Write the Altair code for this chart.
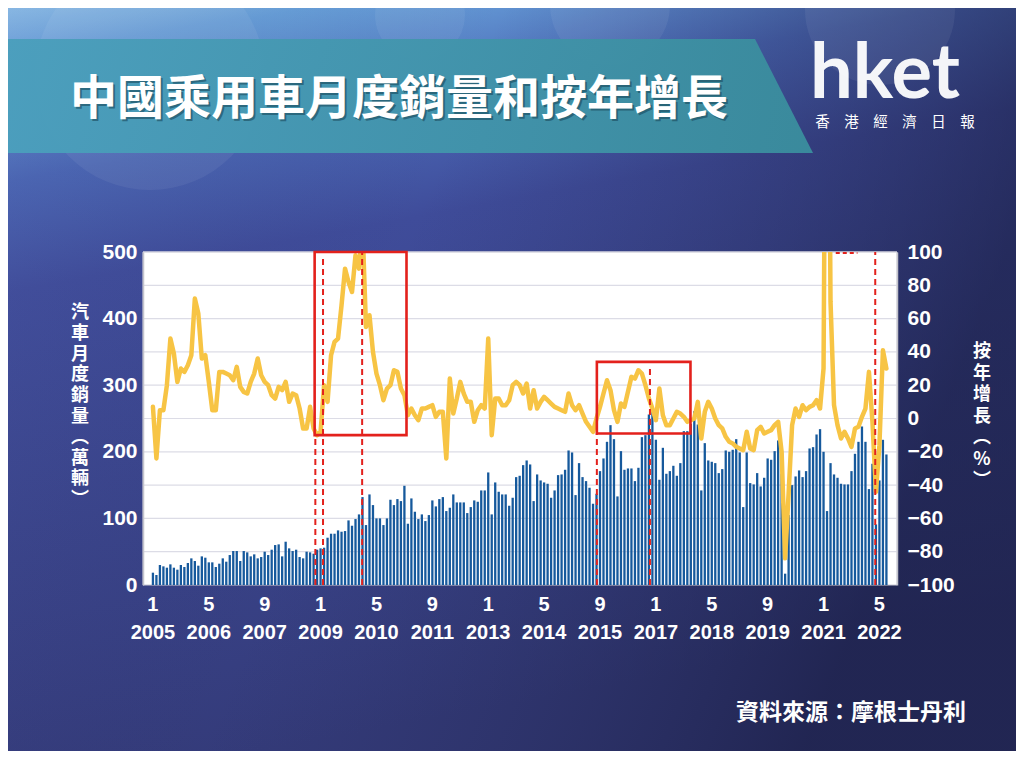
import altair as alt
import pandas as pd

# ---------------- data ----------------
# Monthly passenger-car sales (10k units), Jan 2005 .. Jul 2022
sales_2005 = [18.5, 15, 30, 28, 26, 31, 26, 23, 30, 27, 33, 40]
sales_2006 = [36, 29, 43, 41, 34, 34, 27, 32, 40, 35, 45, 51]
sales_2007 = [51, 36, 51, 49, 43, 46, 40, 42, 50, 45, 53, 60]
sales_2008 = [61, 43, 65, 55, 51, 53, 42, 40, 50, 49, 47, 53]
sales_2009 = [55, 56, 71, 77, 77, 82, 80, 81, 97, 89, 99, 106]
sales_2010 = [132, 90, 136, 120, 100, 100, 90, 100, 128, 120, 129, 126]
sales_2011 = [149, 92, 130, 110, 99, 106, 96, 105, 127, 118, 129, 132]
sales_2012 = [111, 116, 136, 124, 124, 124, 108, 117, 127, 125, 142, 142]
sales_2013 = [169, 106, 154, 140, 136, 136, 119, 131, 162, 164, 180, 187]
sales_2014 = [181, 126, 166, 157, 154, 152, 131, 142, 165, 166, 173, 202]
sales_2015 = [199, 135, 183, 162, 156, 146, 122, 137, 171, 190, 215, 240]
sales_2016 = [219, 133, 201, 173, 175, 175, 156, 176, 222, 225, 256, 262]
sales_2017 = [218, 158, 206, 167, 171, 179, 164, 183, 231, 231, 242, 261]
sales_2018 = [241, 142, 213, 187, 185, 183, 168, 174, 202, 200, 203, 219]
sales_2019 = [199, 117, 199, 153, 151, 168, 148, 161, 190, 188, 201, 217]
sales_2020 = [167, 17, 105, 150, 163, 172, 162, 171, 205, 207, 226, 234]
sales_2021 = [200, 111, 183, 166, 161, 152, 151, 151, 171, 197, 215, 238]
sales_2022 = [215, 144, 182, 91, 157, 218, 196]

# Year-on-year growth (%)
growth_2005 = [7, -24, 5, 5, 20, 48, 39, 22, 30, 28, 32, 38]
growth_2006 = [72, 63, 36, 38, 22, 5, 5, 28, 28, 27, 26, 23]
growth_2007 = [31, 19, 16, 15, 22, 27, 36, 26, 22, 20, 14, 12]
growth_2008 = [19, 17, 22, 10, 15, 14, 6, -6, -6, 7, -6, -10]
growth_2009 = [-8, 20, 10, 38, 46, 48, 68, 90, 82, 76, 98, 90]
growth_2010 = [116, 55, 62, 40, 27, 20, 11, 18, 20, 29, 28, 18]
growth_2011 = [14, 2, 6, 2, -1, 6, 6, 7, 8, 1, 4, 4]
growth_2012 = [-24, 24, 3, 12, 22, 15, 10, 10, -2, 5, 8, 6]
growth_2013 = [48, -10, 12, 12, 8, 8, 11, 20, 22, 20, 15, 21]
growth_2014 = [6, 17, 6, 10, 13, 11, 9, 7, 6, 5, 4, 15]
growth_2015 = [8, 5, 8, 3, -2, -5, -8, 0, 7, 15, 23, 17]
growth_2016 = [5, -2, 9, 7, 16, 25, 24, 29, 27, 20, 12, 6]
growth_2017 = [-1, 18, 2, -4, -4, 0, 4, 3, 1, -2, -1, 0]
growth_2018 = [10, -12, 4, 10, 6, 0, -4, -6, -11, -14, -15, -17]
growth_2019 = [-18, -19, -8, -18, -19, -7, -5, -9, -8, -7, -4, -2]
growth_2020 = [-20, -84, -45, -4, 6, 1, 8, 5, 7, 8, 11, 6]
growth_2021 = [30, 380, 70, 8, -4, -12, -8, -12, -17, -6, -5, 1]
growth_2022 = [6, 28, -2, -44, -16, 41, 30]

# x-axis ticks (month index since Jan 2005)
tick_index = [0, 16, 32, 48, 64, 80, 96, 112, 128, 144, 160, 176, 192, 208]
tick_month = ["1", "5", "9", "1", "5", "9", "1", "5", "9", "1", "5", "9", "1", "5"]
tick_year = ["2005", "2006", "2007", "2009", "2010", "2011", "2013", "2014",
             "2015", "2017", "2018", "2019", "2021", "2022"]
sales_ticks = [0, 100, 200, 300, 400, 500]
growth_ticks = [-100, -80, -60, -40, -20, 0, 20, 40, 60, 80, 100]
grid_sales = [50, 100, 150, 200, 250, 300, 350, 400, 450, 500]

# red annotation boxes / dashed markers (month index, growth %)
box_x1 = [46.3, 127.1]
box_x2 = [72.6, 153.9]
box_low = [-10, -9]
box_high = [100, 34]
dash_x = [46.5, 48.7, 59.9, 127.1, 142.3, 206.8]
dash_top = [-10, 97, 100, -9, 31, 100]
dash_bottom = [-100, -100, -100, -100, -100, -100]
topdash_x1 = [195.5]
topdash_x2 = [201.7]
topdash_g = [99.4]

title_text = "中國乘用車月度銷量和按年增長"
left_title = ["汽", "車", "月", "度", "銷", "量", "︵", "萬", "輛", "︶"]
right_title = ["按", "年", "增", "長", "︵", "%", "︶"]
source_text = "資料來源：摩根士丹利"
logo_text = "hket"
logo_sub = "香　港　經　濟　日　報"

# ---------------- build ----------------
sales = (sales_2005 + sales_2006 + sales_2007 + sales_2008 + sales_2009 + sales_2010 +
         sales_2011 + sales_2012 + sales_2013 + sales_2014 + sales_2015 + sales_2016 +
         sales_2017 + sales_2018 + sales_2019 + sales_2020 + sales_2021 + sales_2022)
growth = (growth_2005 + growth_2006 + growth_2007 + growth_2008 + growth_2009 + growth_2010 +
          growth_2011 + growth_2012 + growth_2013 + growth_2014 + growth_2015 + growth_2016 +
          growth_2017 + growth_2018 + growth_2019 + growth_2020 + growth_2021 + growth_2022)
df = pd.DataFrame({"i": list(range(len(sales))), "sales": sales, "growth": growth})
ticks_df = pd.DataFrame({"i": tick_index, "m": tick_month, "y": tick_year})

W, H = 754, 333
PAD_L, PAD_T, PAD_R, PAD_B = 135, 244, 119, 166


def px(X):
    return X - (8 + PAD_L)


def py(Y):
    return Y - (8 + PAD_T)


one = pd.DataFrame({"a": [0]})
xscale = alt.Scale(domain=[-1.41, 211.6], nice=False, zero=False)
sales_scale = alt.Scale(domain=[0, 500], nice=False)
growth_scale = alt.Scale(domain=[-100, 100], nice=False)

WHITE = "#ffffff"
RED = "#e3211c"
NUM_FONT = "Liberation Sans Narrow, Arial Narrow, Liberation Sans, Arial, sans-serif"
CJK = "Noto Sans CJK TC"

bg_grad = {"gradient": "linear", "x1": 0, "y1": 0, "x2": 0.25, "y2": 1,
           "stops": [{"offset": 0, "color": "#93cbee"},
                     {"offset": 0.07, "color": "#69a3dc"},
                     {"offset": 0.22, "color": "#4a67b4"},
                     {"offset": 0.36, "color": "#3f4c9a"},
                     {"offset": 1, "color": "#343b7a"}]}
shade_grad = {"gradient": "linear", "x1": 0, "y1": 0, "x2": 1, "y2": 0.3,
              "stops": [{"offset": 0, "color": "rgba(90,100,180,0.20)"},
                        {"offset": 0.45, "color": "rgba(40,44,90,0.0)"},
                        {"offset": 1, "color": "rgba(18,20,50,0.55)"}]}
banner_grad = {"gradient": "linear", "x1": 0, "y1": 0, "x2": 1, "y2": 0,
               "stops": [{"offset": 0, "color": "#4b9fbd"},
                         {"offset": 1, "color": "#3a8c9d"}]}

bg = alt.Chart(one).mark_rect(fill=bg_grad).encode(
    x=alt.value(-PAD_L), x2=alt.value(W + PAD_R), y=alt.value(-PAD_T), y2=alt.value(H + PAD_B))
shade = alt.Chart(one).mark_rect(fill=shade_grad).encode(
    x=alt.value(-PAD_L), x2=alt.value(W + PAD_R), y=alt.value(-PAD_T), y2=alt.value(H + PAD_B))

bokeh_df = pd.DataFrame({"bx": [px(150), px(420), px(610), px(880)],
                         "by": [py(75), py(15), py(5), py(10)],
                         "bs": [230 ** 2, 90 ** 2, 120 ** 2, 150 ** 2]})
bokeh = alt.Chart(bokeh_df).mark_point(shape="circle", filled=True, color="#ffffff",
                                       opacity=0.06, strokeOpacity=0).encode(
    x=alt.X("bx:Q", scale=None), y=alt.Y("by:Q", scale=None), size=alt.Size("bs:Q", scale=None))

banner = alt.Chart(one).mark_point(
    shape="M0,0 L755,0 L813,114 L0,114 Z", size=4, filled=True, fill=banner_grad,
    strokeOpacity=0, opacity=0.97).encode(x=alt.value(px(0)), y=alt.value(py(39)))

title_shadow = alt.Chart(one).mark_text(
    text=title_text, font=CJK, fontWeight="bold", fontSize=47,
    align="left", baseline="middle", color="#1b4a5c", opacity=0.6).encode(
    x=alt.value(px(72)), y=alt.value(py(102)))
title = alt.Chart(one).mark_text(
    text=title_text, font=CJK, fontWeight="bold", fontSize=47,
    align="left", baseline="middle", color=WHITE).encode(
    x=alt.value(px(70)), y=alt.value(py(100)))

logo = alt.Chart(one).mark_text(
    text=logo_text, font="Lato", fontWeight="bold", fontSize=76, align="left",
    baseline="alphabetic", color=WHITE, opacity=0.95).encode(
    x=alt.value(px(810)), y=alt.value(py(98)))
logo2 = alt.Chart(one).mark_text(
    text=logo_sub, font=CJK, fontSize=14.5, align="center",
    baseline="middle", color=WHITE).encode(x=alt.value(px(895)), y=alt.value(py(123)))

plot_bg = alt.Chart(one).mark_rect(fill="white", stroke="#c9c9d4", strokeWidth=1).encode(
    x=alt.value(0), x2=alt.value(W), y=alt.value(0), y2=alt.value(H))

grid = alt.Chart(pd.DataFrame({"g": grid_sales})).mark_rule(
    color="#dcdce6", strokeWidth=1.2).encode(
    y=alt.Y("g:Q", scale=sales_scale, axis=None), x=alt.value(0), x2=alt.value(W))

x_axis = alt.Axis(values=tick_index, labels=False, title=None, grid=False, ticks=False,
                  domainColor="#c4c4cc", domainWidth=1.5, zindex=2)
left_axis = alt.Axis(values=sales_ticks, title=None, grid=False, ticks=False,
                     labelColor=WHITE, labelFont="Liberation Sans", labelFontWeight="bold",
                     labelFontSize=21, labelPadding=6, labelOverlap=False, labelFlush=False,
                     domainColor="#c4c4cc", domainWidth=1.5, zindex=2)
right_axis = alt.Axis(values=growth_ticks, orient="right", title=None, grid=False,
                      ticks=False, labelColor=WHITE, labelFont="Liberation Sans",
                      labelFontWeight="bold", labelFontSize=21, labelPadding=10,
                      labelOverlap=False, labelFlush=False, domainColor="#c4c4cc",
                      domainWidth=1.5, zindex=2)

bars = alt.Chart(df).mark_bar(size=2.3, color="#16599c").encode(
    x=alt.X("i:Q", scale=xscale, axis=x_axis),
    y=alt.Y("sales:Q", scale=sales_scale, axis=left_axis))

line = alt.Chart(df).mark_line(color="#f7c444", strokeWidth=4.5, clip=True,
                               strokeJoin="round", strokeCap="round").encode(
    x=alt.X("i:Q", scale=xscale, axis=None),
    y=alt.Y("growth:Q", scale=growth_scale, axis=right_axis))

boxes_df = pd.DataFrame({"x1": box_x1, "x2": box_x2, "g1": box_low, "g2": box_high})
boxes = alt.Chart(boxes_df).mark_rect(fillOpacity=0, stroke=RED, strokeWidth=2.6).encode(
    x=alt.X("x1:Q", scale=xscale, axis=None), x2="x2:Q",
    y=alt.Y("g1:Q", scale=growth_scale, axis=None), y2="g2:Q")

dash_df = pd.DataFrame({"x": dash_x, "g1": dash_bottom, "g2": dash_top})
dashes = alt.Chart(dash_df).mark_rule(color=RED, strokeWidth=2, strokeDash=[6, 4]).encode(
    x=alt.X("x:Q", scale=xscale, axis=None),
    y=alt.Y("g1:Q", scale=growth_scale, axis=None), y2="g2:Q")

topdash_df = pd.DataFrame({"x1": topdash_x1, "x2": topdash_x2, "g": topdash_g})
topdash = alt.Chart(topdash_df).mark_rule(color=RED, strokeWidth=2, strokeDash=[4, 3]).encode(
    x=alt.X("x1:Q", scale=xscale, axis=None), x2="x2:Q",
    y=alt.Y("g:Q", scale=growth_scale, axis=None))

month_lbl = alt.Chart(ticks_df).mark_text(
    font=NUM_FONT, fontWeight="bold", fontSize=20, color=WHITE,
    align="center", baseline="middle").encode(
    x=alt.X("i:Q", scale=xscale, axis=None), y=alt.value(py(605)), text="m:N")
year_lbl = alt.Chart(ticks_df).mark_text(
    font=NUM_FONT, fontWeight="bold", fontSize=20, color=WHITE,
    align="center", baseline="middle").encode(
    x=alt.X("i:Q", scale=xscale, axis=None), y=alt.value(py(633)), text="y:N")

# vertical (stacked) axis titles: one glyph per row
ltitle_df = pd.DataFrame({"c": left_title,
                          "yy": [py(313 + 20.8 * k) for k in range(len(left_title))]})
ltitle = alt.Chart(ltitle_df).mark_text(
    font=CJK, fontWeight="bold", fontSize=18, align="center", baseline="middle",
    color=WHITE).encode(x=alt.value(px(80)), y=alt.Y("yy:Q", scale=None, axis=None),
                        text="c:N")
rtitle_df = pd.DataFrame({"c": right_title,
                          "yy": [py(352 + 21.5 * k) for k in range(len(right_title))]})
rtitle = alt.Chart(rtitle_df).mark_text(
    font=CJK, fontWeight="bold", fontSize=18, align="center", baseline="middle",
    color=WHITE).encode(x=alt.value(px(982)), y=alt.Y("yy:Q", scale=None, axis=None),
                        text="c:N")

source = alt.Chart(one).mark_text(
    text=source_text, font=CJK, fontWeight="bold", fontSize=23,
    align="right", baseline="middle", color=WHITE).encode(
    x=alt.value(px(966)), y=alt.value(py(713)))

chart = alt.layer(
    bg, shade, bokeh, banner, title_shadow, title, logo, logo2, plot_bg, grid,
    bars, line, boxes, dashes, topdash, month_lbl, year_lbl, ltitle, rtitle, source
).resolve_scale(y="independent").properties(
    width=W, height=H,
    autosize=alt.AutoSizeParams(type="none"),
    padding={"left": PAD_L, "top": PAD_T, "right": PAD_R, "bottom": PAD_B},
    background="#2c3164",
).configure_view(stroke=None)

chart.save("out.html", embed_options={"renderer": "svg", "actions": False})
